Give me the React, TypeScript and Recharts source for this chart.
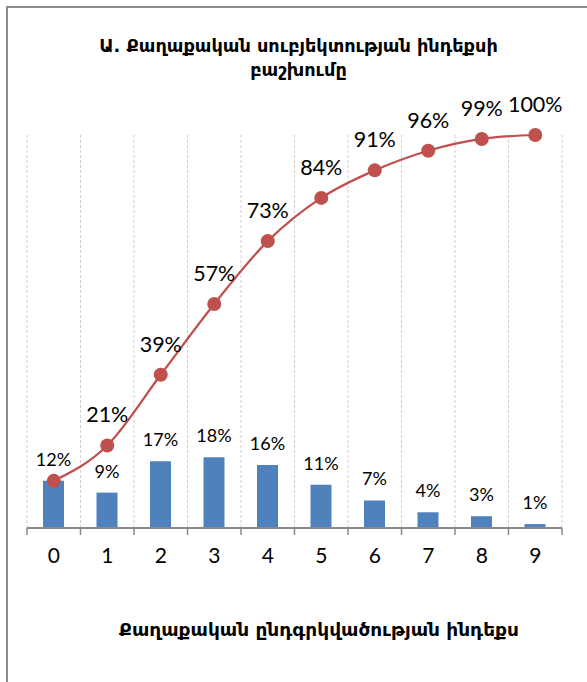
import React from 'react';
import { ComposedChart, Bar, Line, XAxis, YAxis, LabelList, ReferenceLine } from 'recharts';

const categories = ['0', '1', '2', '3', '4', '5', '6', '7', '8', '9'];
const shares = [12, 9, 17, 18, 16, 11, 7, 4, 3, 1];
const cumulative = [12, 21, 39, 57, 73, 84, 91, 96, 99, 100];
const yTicks = [0, 10, 20, 30, 40, 50, 60, 70, 80, 90, 100];

const titleLines = ['Ա. Քաղաքական սուբյեկտության ինդեքսի', 'բաշխումը'];
const xAxisTitle = 'Քաղաքական ընդգրկվածության ինդեքս';

const data = categories.map((c, i) => ({ cat: c, share: shares[i], cum: cumulative[i] }));

const AXIS = '#8a8a8a';
const LABEL_FONT = 'Lato, "Open Sans", sans-serif';
const ARM_FONT = '"DejaVu Sans", sans-serif';

const XTick = (props: any) => {
  const { x, y, payload, index, visibleTicksCount } = props;
  const half = payload && payload.offset ? payload.offset : 26.75;
  const last = index === (visibleTicksCount ?? categories.length) - 1;
  return (
    <g>
      <line x1={x - half} x2={x - half} y1={y - 8} y2={y - 1} stroke={AXIS} strokeWidth={1.5} />
      {last && <line x1={x + half} x2={x + half} y1={y - 8} y2={y - 1} stroke={AXIS} strokeWidth={1.5} />}
      <text x={x} y={y + 27} textAnchor="middle" fontSize={21} fontFamily={LABEL_FONT} fill="#000">
        {payload.value}
      </text>
    </g>
  );
};

const CumLabel = (props: any) => {
  const { x, y, value, index } = props;
  if (index === 0) return null;
  return (
    <text x={x} y={y - 23} textAnchor="middle" fontSize={21.5} fontFamily={LABEL_FONT} fill="#000">
      {value}%
    </text>
  );
};

export default function App() {
  return (
    <div style={{ position: 'absolute', left: 0, top: 0, width: 587, height: 682, background: '#fff' }}>
      <div
        style={{
          position: 'absolute',
          left: 6,
          top: 6,
          width: 581,
          height: 676,
          borderLeft: '2px solid #8c8c8c',
          borderTop: '2px solid #8c8c8c',
          boxSizing: 'border-box',
        }}
      />
      <div
        style={{
          position: 'absolute',
          left: 0,
          top: 34,
          width: 587,
          textAlign: 'center',
          fontFamily: ARM_FONT,
          fontWeight: 'bold',
          fontSize: 17.7,
          lineHeight: '24px',
          color: '#000',
          paddingLeft: 10,
          boxSizing: 'border-box',
        }}
      >
        {titleLines.map((t) => (
          <div key={t}>{t}</div>
        ))}
      </div>
      <div
        style={{
          position: 'absolute',
          left: 0,
          top: 619,
          width: 587,
          textAlign: 'center',
          fontFamily: ARM_FONT,
          fontWeight: 'bold',
          fontSize: 18.5,
          lineHeight: '22px',
          color: '#000',
          paddingLeft: 51,
          boxSizing: 'border-box',
          whiteSpace: 'nowrap',
        }}
      >
        {xAxisTitle}
      </div>
      <div style={{ position: 'absolute', left: 0, top: 0 }}>
        <ComposedChart width={587} height={682} data={data} margin={{ top: 135, right: 25, bottom: 114, left: 27 }}>
          {categories.map((c) => (
            <ReferenceLine key={c} x={c} position="start" stroke="#cfcfcf" strokeDasharray="3 2" />
          ))}
          <ReferenceLine x={categories[categories.length - 1]} position="end" stroke="#cfcfcf" strokeDasharray="3 2" />
          <XAxis
            dataKey="cat"
            height={40}
            axisLine={{ stroke: AXIS, strokeWidth: 2 }}
            tickLine={false}
            tick={<XTick />}
            interval={0}
          />
          <YAxis
            width={0}
            domain={[0, 100]}
            ticks={yTicks}
            axisLine={{ stroke: AXIS, strokeWidth: 2 }}
            tickLine={{ stroke: AXIS, strokeWidth: 1.5 }}
            tickSize={6}
            tickFormatter={() => ''}
            interval={0}
          />
          <Bar dataKey="share" fill="#4F81BD" barSize={21} isAnimationActive={false}>
            <LabelList
              dataKey="share"
              position="top"
              offset={15}
              formatter={(v: any) => `${v}%`}
              fontSize={18}
              fontFamily={LABEL_FONT}
              fill="#000"
            />
          </Bar>
          <Line
            dataKey="cum"
            type="monotone"
            stroke="#C0504D"
            strokeWidth={2.25}
            dot={{ r: 7, fill: '#C0504D', stroke: '#C0504D', strokeWidth: 0 }}
            activeDot={false}
            isAnimationActive={false}
          >
            <LabelList dataKey="cum" content={<CumLabel />} />
          </Line>
        </ComposedChart>
      </div>
    </div>
  );
}
